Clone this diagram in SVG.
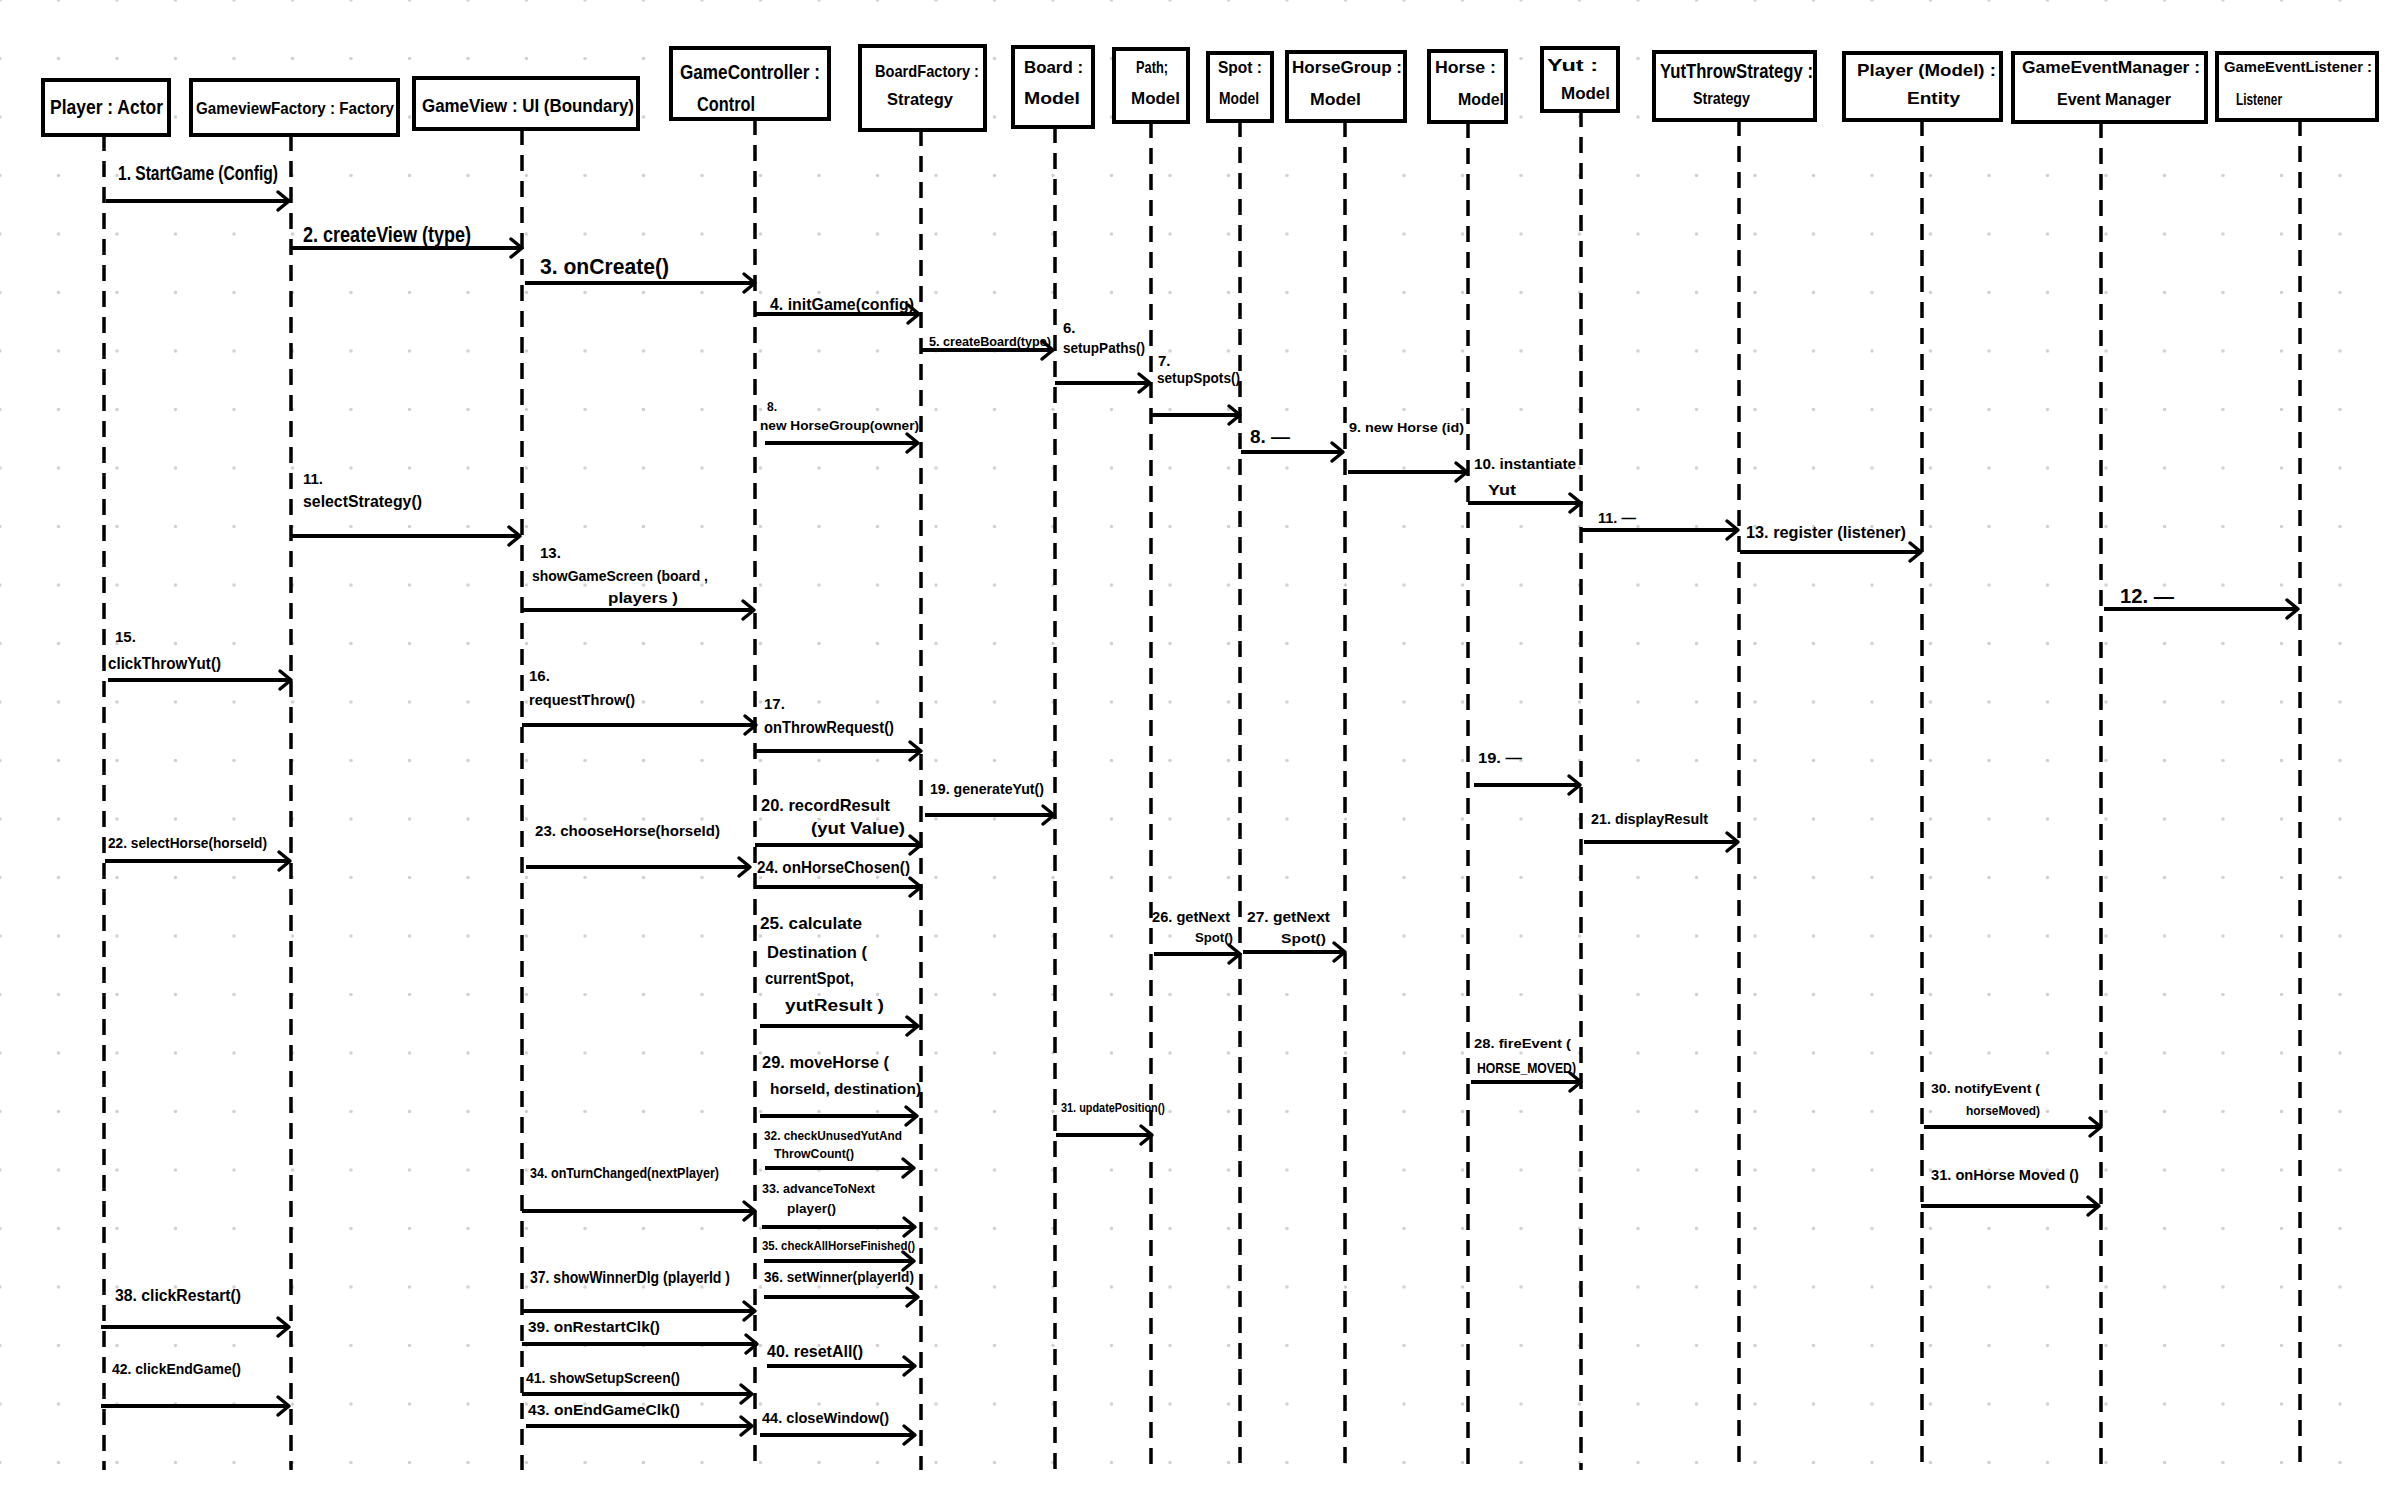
<svg xmlns="http://www.w3.org/2000/svg" width="2386" height="1491" viewBox="0 0 2386 1491">
<defs>
<pattern id="grid" x="-29.25" y="-29.25" width="58.5" height="58.5" patternUnits="userSpaceOnUse">
<circle cx="29.25" cy="29.25" r="1.7" fill="#cfcfcf"/>
</pattern>
<marker id="ah" markerUnits="userSpaceOnUse" markerWidth="20" markerHeight="24" viewBox="-16 -12 20 24" refX="0" refY="0" orient="auto">
<path d="M-11,-9 L0,0 L-11,9" fill="none" stroke="#000" stroke-width="3.5" stroke-linecap="round" stroke-linejoin="round"/>
</marker>
<style>
.box{fill:#fff;stroke:#000;stroke-width:4}
.life{stroke:#000;stroke-width:3.5;stroke-dasharray:16 10;fill:none}
.msg{stroke:#000;stroke-width:4;fill:none;marker-end:url(#ah)}
text{font-family:"Liberation Sans","DejaVu Sans",Arial,sans-serif;font-weight:bold;fill:#000}
.h{font-size:20px}
.hs{font-size:17px}
</style>
</defs>
<rect width="2386" height="1491" fill="#fff"/>
<rect width="2386" height="1491" fill="url(#grid)"/>

<g id="lifelines">
<line class="life" x1="104" y1="135" x2="104" y2="1470"/>
<line class="life" x1="291" y1="135" x2="291" y2="1470"/>
<line class="life" x1="522" y1="129" x2="522" y2="1470"/>
<line class="life" x1="755" y1="119" x2="755" y2="1470"/>
<line class="life" x1="921" y1="130" x2="921" y2="1470"/>
<line class="life" x1="1055" y1="127" x2="1055" y2="1470"/>
<line class="life" x1="1151" y1="122" x2="1151" y2="1470"/>
<line class="life" x1="1240" y1="121" x2="1240" y2="1470"/>
<line class="life" x1="1345" y1="121" x2="1345" y2="1470"/>
<line class="life" x1="1468" y1="122" x2="1468" y2="1470"/>
<line class="life" x1="1581" y1="111" x2="1581" y2="1470"/>
<line class="life" x1="1739" y1="120" x2="1739" y2="1470"/>
<line class="life" x1="1922" y1="120" x2="1922" y2="1470"/>
<line class="life" x1="2101" y1="122" x2="2101" y2="1470"/>
<line class="life" x1="2300" y1="120" x2="2300" y2="1470"/>
</g>

<g id="player-actor"><rect class="box" x="43" y="80" width="126" height="55"/><text class="h" x="50" y="114" textLength="113" lengthAdjust="spacingAndGlyphs">Player : Actor</text></g>
<g id="gameviewfactory"><rect class="box" x="191" y="80" width="207" height="55"/><text font-size="17" x="196" y="114" textLength="198" lengthAdjust="spacingAndGlyphs">GameviewFactory : Factory</text></g>
<g id="gameview"><rect class="box" x="414" y="78" width="224" height="51"/><text font-size="18" x="422" y="112" textLength="212" lengthAdjust="spacingAndGlyphs">GameView : UI (Boundary)</text></g>
<g id="gamecontroller"><rect class="box" x="671" y="48" width="158" height="71"/><text class="h" x="680" y="79" textLength="140" lengthAdjust="spacingAndGlyphs">GameController :</text><text class="h" x="697" y="111" textLength="58" lengthAdjust="spacingAndGlyphs">Control</text></g>
<g id="boardfactory"><rect class="box" x="860" y="46" width="125" height="84"/><text class="hs" x="875" y="77" textLength="104" lengthAdjust="spacingAndGlyphs">BoardFactory :</text><text class="hs" x="887" y="105" textLength="66" lengthAdjust="spacingAndGlyphs">Strategy</text></g>
<g id="board"><rect class="box" x="1013" y="47" width="80" height="80"/><text class="hs" x="1024" y="73" textLength="59" lengthAdjust="spacingAndGlyphs">Board :</text><text class="hs" x="1024" y="104" textLength="56" lengthAdjust="spacingAndGlyphs">Model</text></g>
<g id="path"><rect class="box" x="1114" y="49" width="74" height="73"/><text class="hs" x="1136" y="73" textLength="32" lengthAdjust="spacingAndGlyphs">Path;</text><text class="hs" x="1131" y="104" textLength="49" lengthAdjust="spacingAndGlyphs">Model</text></g>
<g id="spot"><rect class="box" x="1208" y="53" width="64" height="68"/><text class="hs" x="1218" y="73" textLength="44" lengthAdjust="spacingAndGlyphs">Spot :</text><text class="hs" x="1219" y="104" textLength="40" lengthAdjust="spacingAndGlyphs">Model</text></g>
<g id="horsegroup"><rect class="box" x="1287" y="52" width="118" height="69"/><text class="hs" x="1292" y="73" textLength="110" lengthAdjust="spacingAndGlyphs">HorseGroup :</text><text class="hs" x="1310" y="105" textLength="51" lengthAdjust="spacingAndGlyphs">Model</text></g>
<g id="horse"><rect class="box" x="1429" y="51" width="77" height="71"/><text class="hs" x="1435" y="73" textLength="61" lengthAdjust="spacingAndGlyphs">Horse :</text><text class="hs" x="1458" y="105" textLength="46" lengthAdjust="spacingAndGlyphs">Model</text></g>
<g id="yut"><rect class="box" x="1542" y="48" width="76" height="63"/><text class="hs" x="1547" y="71" textLength="51" lengthAdjust="spacingAndGlyphs">Yut :</text><text class="hs" x="1561" y="99" textLength="49" lengthAdjust="spacingAndGlyphs">Model</text></g>
<g id="yutthrowstrategy"><rect class="box" x="1654" y="52" width="161" height="68"/><text class="h" x="1660" y="78" textLength="153" lengthAdjust="spacingAndGlyphs">YutThrowStrategy :</text><text class="hs" x="1693" y="104" textLength="57" lengthAdjust="spacingAndGlyphs">Strategy</text></g>
<g id="player-model"><rect class="box" x="1844" y="53" width="157" height="67"/><text class="hs" x="1857" y="76" textLength="139" lengthAdjust="spacingAndGlyphs">Player (Model) :</text><text class="hs" x="1907" y="104" textLength="53" lengthAdjust="spacingAndGlyphs">Entity</text></g>
<g id="gameeventmanager"><rect class="box" x="2013" y="53" width="193" height="69"/><text class="hs" x="2022" y="73" textLength="178" lengthAdjust="spacingAndGlyphs">GameEventManager :</text><text class="hs" x="2057" y="105" textLength="114" lengthAdjust="spacingAndGlyphs">Event Manager</text></g>
<g id="gameeventlistener"><rect class="box" x="2217" y="53" width="160" height="67"/><text font-size="15" x="2224" y="72" textLength="148" lengthAdjust="spacingAndGlyphs">GameEventListener :</text><text class="hs" x="2236" y="105" textLength="46" lengthAdjust="spacingAndGlyphs">Listener</text></g>

<g id="connectors">
<g id="m1"><line class="msg" x1="106" y1="201" x2="289" y2="201"/><text font-size="20" x="118" y="180" textLength="160" lengthAdjust="spacingAndGlyphs">1. StartGame (Config)</text></g>
<g id="m2"><line class="msg" x1="292" y1="248" x2="522" y2="248"/><text font-size="22" x="303" y="242" textLength="168" lengthAdjust="spacingAndGlyphs">2. createView (type)</text></g>
<g id="m3"><line class="msg" x1="525" y1="283" x2="755" y2="283"/><text font-size="22" x="540" y="274" textLength="129" lengthAdjust="spacingAndGlyphs">3. onCreate()</text></g>
<g id="m4"><line class="msg" x1="756" y1="314" x2="919" y2="314"/><text font-size="17" x="770" y="310" textLength="144" lengthAdjust="spacingAndGlyphs">4. initGame(config)</text></g>
<g id="m5"><line class="msg" x1="921" y1="350" x2="1053" y2="350"/><text font-size="12.5" x="929" y="346" textLength="122" lengthAdjust="spacingAndGlyphs">5. createBoard(type)</text></g>
<g id="m6"><line class="msg" x1="1055" y1="383" x2="1150" y2="383"/><text font-size="15" x="1063" y="333">6.</text><text font-size="15" x="1063" y="353" textLength="82" lengthAdjust="spacingAndGlyphs">setupPaths()</text></g>
<g id="m7"><line class="msg" x1="1151" y1="415" x2="1240" y2="415"/><text font-size="15" x="1158" y="366">7.</text><text font-size="14" x="1157" y="383" textLength="83" lengthAdjust="spacingAndGlyphs">setupSpots()</text></g>
<g id="m8a"><line class="msg" x1="765" y1="443" x2="918" y2="443"/><text font-size="12" x="767" y="411">8.</text><text font-size="13" x="760" y="430" textLength="159" lengthAdjust="spacingAndGlyphs">new HorseGroup(owner)</text></g>
<g id="m8b"><line class="msg" x1="1241" y1="452" x2="1343" y2="452"/><text font-size="18" x="1250" y="443" textLength="40" lengthAdjust="spacingAndGlyphs">8. —</text></g>
<g id="m9"><line class="msg" x1="1348" y1="472" x2="1467" y2="472"/><text font-size="13" x="1349" y="432" textLength="115" lengthAdjust="spacingAndGlyphs">9. new Horse (id)</text></g>
<g id="m10"><line class="msg" x1="1468" y1="503" x2="1581" y2="503"/><text font-size="14" x="1474" y="469" textLength="102" lengthAdjust="spacingAndGlyphs">10. instantiate</text><text font-size="15" x="1488" y="495" textLength="28" lengthAdjust="spacingAndGlyphs">Yut</text></g>
<g id="m11b"><line class="msg" x1="1582" y1="530" x2="1738" y2="530"/><text font-size="15" x="1598" y="523" textLength="38" lengthAdjust="spacingAndGlyphs">11. —</text></g>
<g id="m13b"><line class="msg" x1="1740" y1="552" x2="1921" y2="552"/><text font-size="16" x="1746" y="538" textLength="160" lengthAdjust="spacingAndGlyphs">13. register (listener)</text></g>
<g id="m12"><line class="msg" x1="2104" y1="609" x2="2298" y2="609"/><text font-size="20" x="2120" y="603" textLength="54" lengthAdjust="spacingAndGlyphs">12. —</text></g>
<g id="m11"><line class="msg" x1="292" y1="536" x2="520" y2="536"/><text font-size="15" x="303" y="484">11.</text><text font-size="16" x="303" y="507" textLength="119" lengthAdjust="spacingAndGlyphs">selectStrategy()</text></g>
<g id="m13"><line class="msg" x1="522" y1="610" x2="754" y2="610"/><text font-size="15" x="540" y="558">13.</text><text font-size="15" x="532" y="581" textLength="176" lengthAdjust="spacingAndGlyphs">showGameScreen (board ,</text><text font-size="15" x="608" y="603" textLength="70" lengthAdjust="spacingAndGlyphs">players )</text></g>
<g id="m15"><line class="msg" x1="108" y1="680" x2="291" y2="680"/><text font-size="15" x="115" y="642">15.</text><text font-size="16" x="108" y="669" textLength="113" lengthAdjust="spacingAndGlyphs">clickThrowYut()</text></g>
<g id="m16"><line class="msg" x1="522" y1="725" x2="756" y2="725"/><text font-size="15" x="529" y="681">16.</text><text font-size="15" x="529" y="705" textLength="106" lengthAdjust="spacingAndGlyphs">requestThrow()</text></g>
<g id="m17"><line class="msg" x1="755" y1="751" x2="921" y2="751"/><text font-size="15" x="764" y="709">17.</text><text font-size="16" x="764" y="733" textLength="130" lengthAdjust="spacingAndGlyphs">onThrowRequest()</text></g>
<g id="m19"><line class="msg" x1="925" y1="815" x2="1054" y2="815"/><text font-size="14" x="930" y="794" textLength="114" lengthAdjust="spacingAndGlyphs">19. generateYut()</text></g>
<g id="m19b"><line class="msg" x1="1474" y1="785" x2="1580" y2="785"/><text font-size="15" x="1478" y="763" textLength="44" lengthAdjust="spacingAndGlyphs">19. —</text></g>
<g id="m20"><line class="msg" x1="755" y1="845" x2="921" y2="845"/><text font-size="17" x="761" y="811" textLength="129" lengthAdjust="spacingAndGlyphs">20. recordResult</text><text font-size="17" x="811" y="834" textLength="94" lengthAdjust="spacingAndGlyphs">(yut Value)</text></g>
<g id="m21"><line class="msg" x1="1584" y1="842" x2="1738" y2="842"/><text font-size="14" x="1591" y="824" textLength="117" lengthAdjust="spacingAndGlyphs">21. displayResult</text></g>
<g id="m22"><line class="msg" x1="105" y1="861" x2="290" y2="861"/><text font-size="15" x="108" y="848" textLength="159" lengthAdjust="spacingAndGlyphs">22. selectHorse(horseId)</text></g>
<g id="m23"><line class="msg" x1="526" y1="867" x2="750" y2="867"/><text font-size="15" x="535" y="836" textLength="185" lengthAdjust="spacingAndGlyphs">23.  chooseHorse(horseId)</text></g>
<g id="m24"><line class="msg" x1="755" y1="887" x2="921" y2="887"/><text font-size="16" x="757" y="873" textLength="153" lengthAdjust="spacingAndGlyphs">24. onHorseChosen()</text></g>
<g id="m25"><line class="msg" x1="760" y1="1026" x2="918" y2="1026"/><text font-size="16" x="760" y="929" textLength="102" lengthAdjust="spacingAndGlyphs">25. calculate</text><text font-size="16" x="767" y="958" textLength="100" lengthAdjust="spacingAndGlyphs">Destination (</text><text font-size="16" x="765" y="984" textLength="89" lengthAdjust="spacingAndGlyphs">currentSpot,</text><text font-size="16" x="785" y="1011" textLength="99" lengthAdjust="spacingAndGlyphs">yutResult )</text></g>
<g id="m26"><line class="msg" x1="1154" y1="954" x2="1240" y2="954"/><text font-size="14" x="1152" y="922" textLength="78" lengthAdjust="spacingAndGlyphs">26. getNext</text><text font-size="13" x="1195" y="942" textLength="38" lengthAdjust="spacingAndGlyphs">Spot()</text></g>
<g id="m27"><line class="msg" x1="1243" y1="952" x2="1345" y2="952"/><text font-size="14" x="1247" y="922" textLength="83" lengthAdjust="spacingAndGlyphs">27. getNext</text><text font-size="13" x="1281" y="943" textLength="45" lengthAdjust="spacingAndGlyphs">Spot()</text></g>
<g id="m28"><line class="msg" x1="1471" y1="1082" x2="1581" y2="1082"/><text font-size="13" x="1474" y="1048" textLength="97" lengthAdjust="spacingAndGlyphs">28. fireEvent (</text><text font-size="14" x="1477" y="1073" textLength="99" lengthAdjust="spacingAndGlyphs">HORSE_MOVED)</text></g>
<g id="m29"><line class="msg" x1="760" y1="1116" x2="917" y2="1116"/><text font-size="16" x="762" y="1068" textLength="127" lengthAdjust="spacingAndGlyphs">29. moveHorse (</text><text font-size="15" x="770" y="1094" textLength="151" lengthAdjust="spacingAndGlyphs">horseId, destination)</text></g>
<g id="m30"><line class="msg" x1="1924" y1="1127" x2="2101" y2="1127"/><text font-size="13" x="1931" y="1093" textLength="109" lengthAdjust="spacingAndGlyphs">30. notifyEvent (</text><text font-size="13" x="1966" y="1115" textLength="74" lengthAdjust="spacingAndGlyphs">horseMoved)</text></g>
<g id="m31"><line class="msg" x1="1921" y1="1206" x2="2099" y2="1206"/><text font-size="14" x="1931" y="1180" textLength="148" lengthAdjust="spacingAndGlyphs">31. onHorse Moved ()</text></g>
<g id="m31b"><line class="msg" x1="1056" y1="1135" x2="1152" y2="1135"/><text font-size="12" x="1061" y="1112" textLength="104" lengthAdjust="spacingAndGlyphs">31. updatePosition()</text></g>
<g id="m32"><line class="msg" x1="765" y1="1168" x2="914" y2="1168"/><text font-size="12" x="764" y="1140" textLength="138" lengthAdjust="spacingAndGlyphs">32. checkUnusedYutAnd</text><text font-size="12" x="774" y="1158" textLength="80" lengthAdjust="spacingAndGlyphs">ThrowCount()</text></g>
<g id="m34"><line class="msg" x1="522" y1="1211" x2="755" y2="1211"/><text font-size="14" x="530" y="1178" textLength="189" lengthAdjust="spacingAndGlyphs">34. onTurnChanged(nextPlayer)</text></g>
<g id="m33"><line class="msg" x1="762" y1="1227" x2="915" y2="1227"/><text font-size="13" x="762" y="1193" textLength="113" lengthAdjust="spacingAndGlyphs">33. advanceToNext</text><text font-size="13" x="787" y="1213" textLength="49" lengthAdjust="spacingAndGlyphs">player()</text></g>
<g id="m35"><line class="msg" x1="764" y1="1261" x2="914" y2="1261"/><text font-size="12" x="762" y="1250" textLength="153" lengthAdjust="spacingAndGlyphs">35. checkAllHorseFinished()</text></g>
<g id="m36"><line class="msg" x1="764" y1="1297" x2="918" y2="1297"/><text font-size="14" x="764" y="1282" textLength="150" lengthAdjust="spacingAndGlyphs">36. setWinner(playerId)</text></g>
<g id="m37"><line class="msg" x1="522" y1="1311" x2="755" y2="1311"/><text font-size="16" x="530" y="1283" textLength="200" lengthAdjust="spacingAndGlyphs">37.  showWinnerDlg (playerId )</text></g>
<g id="m38"><line class="msg" x1="101" y1="1327" x2="289" y2="1327"/><text font-size="16" x="115" y="1301" textLength="126" lengthAdjust="spacingAndGlyphs">38. clickRestart()</text></g>
<g id="m39"><line class="msg" x1="522" y1="1344" x2="757" y2="1344"/><text font-size="14" x="528" y="1332" textLength="132" lengthAdjust="spacingAndGlyphs">39. onRestartClk()</text></g>
<g id="m40"><line class="msg" x1="767" y1="1366" x2="915" y2="1366"/><text font-size="16" x="767" y="1357" textLength="96" lengthAdjust="spacingAndGlyphs">40. resetAll()</text></g>
<g id="m41"><line class="msg" x1="522" y1="1394" x2="752" y2="1394"/><text font-size="15" x="526" y="1383" textLength="154" lengthAdjust="spacingAndGlyphs">41. showSetupScreen()</text></g>
<g id="m42"><line class="msg" x1="101" y1="1406" x2="289" y2="1406"/><text font-size="15" x="112" y="1374" textLength="129" lengthAdjust="spacingAndGlyphs">42. clickEndGame()</text></g>
<g id="m43"><line class="msg" x1="526" y1="1426" x2="752" y2="1426"/><text font-size="14" x="528" y="1415" textLength="152" lengthAdjust="spacingAndGlyphs">43. onEndGameClk()</text></g>
<g id="m44"><line class="msg" x1="760" y1="1435" x2="915" y2="1435"/><text font-size="15" x="762" y="1423" textLength="127" lengthAdjust="spacingAndGlyphs">44. closeWindow()</text></g>
</g>
</svg>
